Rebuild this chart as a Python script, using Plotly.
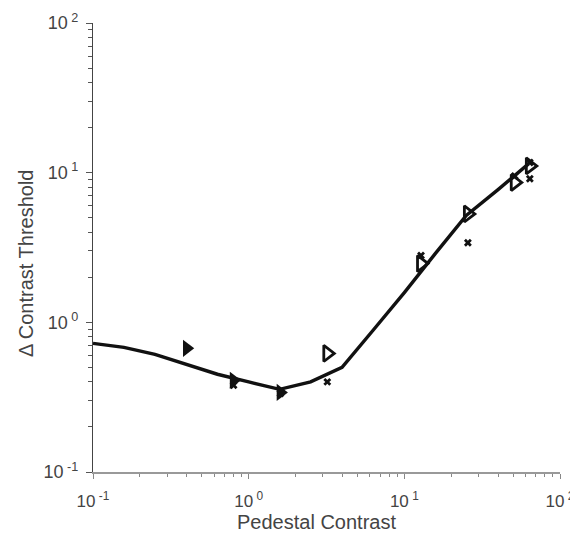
import plotly.graph_objects as go

# Model curve
curve_x = [0.1, 0.158, 0.25, 0.4, 0.63, 1.0, 1.58, 2.5, 3.98, 6.3, 10.0, 15.8, 25.0, 40.0, 63.0]
curve_y = [0.724, 0.68, 0.61, 0.525, 0.45, 0.40, 0.357, 0.40, 0.50, 0.885, 1.58, 2.88, 5.17, 7.7, 11.5]

# Filled triangles
filled_x = [0.4, 0.8, 1.6]
filled_y = [0.67, 0.41, 0.34]

# Open triangles
open_x = [3.2, 12.8, 25.6, 51.2, 64.0]
open_y = [0.62, 2.47, 5.3, 8.6, 11.1]

# Crosses
cross_x = [0.8, 1.6, 3.2, 12.8, 25.6, 51.2, 64.0, 64.0]
cross_y = [0.38, 0.335, 0.40, 2.8, 3.4, 9.5, 9.1, 11.7]

major_vals = [0.1, 1, 10, 100]
major_text = ["10<sup> -1</sup>", "10<sup> 0</sup>", "10<sup> 1</sup>", "10<sup> 2</sup>"]
minor_vals = [m * d for d in [0.1, 1, 10] for m in range(2, 10)]

x_title = "Pedestal Contrast"
y_title = "Δ Contrast Threshold"

fig = go.Figure()
fig.add_trace(go.Scatter(x=curve_x, y=curve_y, mode="lines",
                         line=dict(color="#111111", width=3.4), showlegend=False))
fig.add_trace(go.Scatter(x=cross_x, y=cross_y, mode="markers",
                         marker=dict(symbol="x", size=7, color="#111111", line=dict(width=0)),
                         showlegend=False))
fig.add_trace(go.Scatter(x=filled_x, y=filled_y, mode="markers",
                         marker=dict(symbol="triangle-right", size=15, color="#111111", line=dict(width=0)),
                         showlegend=False))
fig.add_trace(go.Scatter(x=open_x, y=open_y, mode="markers",
                         marker=dict(symbol="triangle-right-open", size=14, color="#111111",
                                     line=dict(width=2.8, color="#111111")),
                         showlegend=False))

fam = "Liberation Sans, Arial, sans-serif"
fig.update_layout(
    width=570, height=530,
    margin=dict(l=85, r=18, t=15, b=66),
    plot_bgcolor="white", paper_bgcolor="white",
    font=dict(family=fam, size=17, color="#444444"),
    xaxis=dict(type="log", range=[-1, 2], tickmode="array", tickvals=major_vals, ticktext=major_text,
               automargin=False, ticklabelstandoff=8, ticklabeloverflow="allow",
               ticks="outside", ticklen=5, tickcolor="#888888", showline=True, linecolor="#999999",
               linewidth=1.5, showgrid=False, zeroline=False, mirror=False,
               minor=dict(tickmode="array", tickvals=minor_vals, ticks="outside", ticklen=3,
                          tickcolor="#888888", showgrid=False),
               tickfont=dict(family=fam, size=17, color="#444444")),
    yaxis=dict(type="log", range=[-1, 2], tickmode="array", tickvals=major_vals, ticktext=major_text,
               automargin=False, ticklabelstandoff=4, ticklabeloverflow="allow",
               ticks="outside", ticklen=6, tickcolor="#555555", showline=True, linecolor="#444444",
               linewidth=1.2, showgrid=False, zeroline=False, mirror=False,
               minor=dict(tickmode="array", tickvals=minor_vals, ticks="outside", ticklen=4,
                          tickcolor="#555555", showgrid=False),
               tickfont=dict(family=fam, size=18, color="#444444")),
    annotations=[
        dict(text=x_title, xref="paper", yref="paper", x=0.478, y=-0.111,
             xanchor="center", yanchor="middle", showarrow=False,
             font=dict(family=fam, size=20, color="#444444")),
        dict(text=y_title, xref="paper", yref="paper", x=-0.145, y=0.466, textangle=-90,
             xanchor="center", yanchor="middle", showarrow=False,
             font=dict(family=fam, size=20, color="#444444")),
    ],
)

fig.write_html("out.html")
